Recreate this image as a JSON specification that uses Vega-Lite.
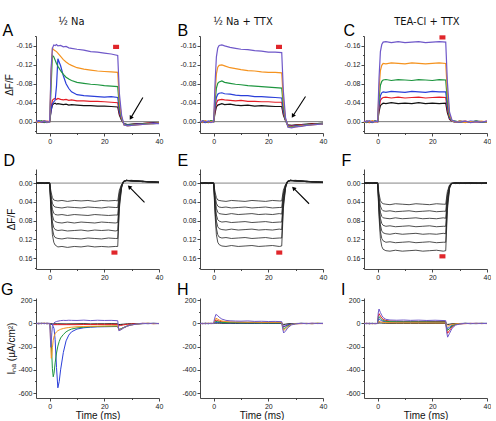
{
"$schema":"https://vega.github.io/schema/vega-lite/v6.json",
"padding":{"left":0,"top":16,"right":0,"bottom":0},
"background":"white",
"config":{"view":{"stroke":null},"axis":{"labelFont":"Liberation Sans","labelFontSize":7,"labelColor":"#222","titleFont":"Liberation Sans","titleFontSize":10,"titleFontWeight":"normal","titleColor":"#111","domainColor":"#333","tickColor":"#333","domainWidth":0.9,"tickWidth":0.9,"grid":false,"labelPadding":1,"labelOverlap":false}},
"datasets":{
"A":[
{"t":-5,"k":0.001,"r":-0.001,"b":0,"g":0.001,"o":-0.001,"u":0.002},
{"t":-4,"k":-0.001,"r":0.001,"b":-0.002,"g":0,"o":0.002,"u":-0.001},
{"t":-3,"k":0.001,"r":0,"b":0.001,"g":-0.002,"o":0,"u":0.001},
{"t":-2,"k":-0.001,"r":0.002,"b":0,"g":0.001,"o":-0.002,"u":-0.002},
{"t":-1,"k":0,"r":-0.001,"b":0.002,"g":0,"o":0.001,"u":0.001},
{"t":0,"k":0,"r":0,"b":0,"g":0,"o":0,"u":0},
{"t":0.5,"k":-0.022,"r":-0.028,"b":-0.024,"g":-0.07,"o":-0.1,"u":-0.11},
{"t":1,"k":-0.035,"r":-0.045,"b":-0.038,"g":-0.14,"o":-0.155,"u":-0.155},
{"t":1.5,"k":-0.038,"r":-0.048,"b":-0.042,"g":-0.137,"o":-0.152,"u":-0.162},
{"t":2,"k":-0.039,"r":-0.049,"b":-0.045,"g":-0.13,"o":-0.15,"u":-0.161},
{"t":2.5,"k":-0.037,"r":-0.047,"b":-0.075,"g":-0.123,"o":-0.148,"u":-0.163},
{"t":3,"k":-0.038,"r":-0.049,"b":-0.133,"g":-0.117,"o":-0.145,"u":-0.16},
{"t":4,"k":-0.037,"r":-0.047,"b":-0.118,"g":-0.108,"o":-0.138,"u":-0.161},
{"t":5,"k":-0.036,"r":-0.046,"b":-0.097,"g":-0.1,"o":-0.131,"u":-0.158},
{"t":6,"k":-0.037,"r":-0.047,"b":-0.08,"g":-0.094,"o":-0.126,"u":-0.159},
{"t":7,"k":-0.035,"r":-0.045,"b":-0.07,"g":-0.09,"o":-0.122,"u":-0.156},
{"t":8,"k":-0.036,"r":-0.046,"b":-0.063,"g":-0.087,"o":-0.119,"u":-0.155},
{"t":10,"k":-0.035,"r":-0.044,"b":-0.057,"g":-0.083,"o":-0.114,"u":-0.153},
{"t":12.5,"k":-0.034,"r":-0.044,"b":-0.055,"g":-0.081,"o":-0.111,"u":-0.151},
{"t":15,"k":-0.034,"r":-0.043,"b":-0.054,"g":-0.079,"o":-0.109,"u":-0.148},
{"t":17.5,"k":-0.033,"r":-0.043,"b":-0.053,"g":-0.078,"o":-0.107,"u":-0.147},
{"t":20,"k":-0.033,"r":-0.042,"b":-0.052,"g":-0.076,"o":-0.106,"u":-0.145},
{"t":22.5,"k":-0.032,"r":-0.041,"b":-0.053,"g":-0.075,"o":-0.105,"u":-0.143},
{"t":24.9,"k":-0.031,"r":-0.04,"b":-0.051,"g":-0.074,"o":-0.104,"u":-0.14},
{"t":25.5,"k":-0.014,"r":-0.018,"b":-0.022,"g":-0.032,"o":-0.045,"u":-0.06},
{"t":26.3,"k":-0.003,"r":-0.004,"b":-0.005,"g":-0.007,"o":-0.01,"u":-0.014},
{"t":27.2,"k":0.004,"r":0.005,"b":0.005,"g":0.006,"o":0.007,"u":0.007},
{"t":28.5,"k":0.006,"r":0.007,"b":0.007,"g":0.008,"o":0.009,"u":0.009},
{"t":30,"k":0.005,"r":0.006,"b":0.007,"g":0.007,"o":0.008,"u":0.008},
{"t":32,"k":0.004,"r":0.005,"b":0.005,"g":0.006,"o":0.007,"u":0.007},
{"t":34,"k":0.004,"r":0.004,"b":0.005,"g":0.005,"o":0.006,"u":0.006},
{"t":36,"k":0.003,"r":0.003,"b":0.004,"g":0.004,"o":0.005,"u":0.005},
{"t":38,"k":0.002,"r":0.003,"b":0.003,"g":0.004,"o":0.004,"u":0.004},
{"t":40,"k":0.002,"r":0.002,"b":0.003,"g":0.003,"o":0.003,"u":0.004}
],
"B":[
{"t":-5,"k":0.001,"r":0,"b":-0.001,"g":0.002,"o":-0.001,"u":0.001},
{"t":-4,"k":-0.001,"r":0.002,"b":0.001,"g":-0.001,"o":0.001,"u":-0.002},
{"t":-3,"k":0,"r":-0.001,"b":0.002,"g":0,"o":-0.002,"u":0.001},
{"t":-2,"k":0.002,"r":0.001,"b":-0.001,"g":0.001,"o":0.001,"u":-0.001},
{"t":-1,"k":-0.001,"r":-0.001,"b":0,"g":-0.002,"o":0,"u":0.002},
{"t":0,"k":0,"r":0,"b":0,"g":0,"o":0,"u":0},
{"t":0.5,"k":-0.018,"r":-0.023,"b":-0.03,"g":-0.042,"o":-0.06,"u":-0.08},
{"t":1,"k":-0.031,"r":-0.039,"b":-0.051,"g":-0.071,"o":-0.101,"u":-0.137},
{"t":1.5,"k":-0.035,"r":-0.045,"b":-0.058,"g":-0.081,"o":-0.115,"u":-0.156},
{"t":2,"k":-0.036,"r":-0.046,"b":-0.06,"g":-0.084,"o":-0.119,"u":-0.161},
{"t":3,"k":-0.038,"r":-0.047,"b":-0.061,"g":-0.086,"o":-0.12,"u":-0.162},
{"t":4,"k":-0.036,"r":-0.046,"b":-0.059,"g":-0.083,"o":-0.118,"u":-0.16},
{"t":6,"k":-0.037,"r":-0.045,"b":-0.058,"g":-0.081,"o":-0.114,"u":-0.157},
{"t":8,"k":-0.035,"r":-0.044,"b":-0.056,"g":-0.079,"o":-0.112,"u":-0.155},
{"t":10,"k":-0.034,"r":-0.045,"b":-0.055,"g":-0.078,"o":-0.11,"u":-0.153},
{"t":12.5,"k":-0.035,"r":-0.043,"b":-0.055,"g":-0.076,"o":-0.108,"u":-0.152},
{"t":15,"k":-0.033,"r":-0.043,"b":-0.053,"g":-0.075,"o":-0.107,"u":-0.15},
{"t":17.5,"k":-0.034,"r":-0.042,"b":-0.053,"g":-0.074,"o":-0.105,"u":-0.149},
{"t":20,"k":-0.033,"r":-0.042,"b":-0.052,"g":-0.073,"o":-0.104,"u":-0.147},
{"t":22.5,"k":-0.032,"r":-0.041,"b":-0.051,"g":-0.072,"o":-0.104,"u":-0.147},
{"t":24.9,"k":-0.032,"r":-0.041,"b":-0.05,"g":-0.071,"o":-0.103,"u":-0.146},
{"t":25.5,"k":-0.014,"r":-0.018,"b":-0.022,"g":-0.031,"o":-0.045,"u":-0.064},
{"t":26.3,"k":-0.002,"r":-0.003,"b":-0.003,"g":-0.004,"o":-0.006,"u":-0.008},
{"t":27.2,"k":0.007,"r":0.008,"b":0.009,"g":0.01,"o":0.011,"u":0.012},
{"t":28.5,"k":0.008,"r":0.009,"b":0.01,"g":0.011,"o":0.012,"u":0.013},
{"t":30,"k":0.007,"r":0.008,"b":0.009,"g":0.01,"o":0.011,"u":0.011},
{"t":32,"k":0.006,"r":0.007,"b":0.008,"g":0.009,"o":0.009,"u":0.01},
{"t":34,"k":0.005,"r":0.006,"b":0.007,"g":0.007,"o":0.008,"u":0.008},
{"t":36,"k":0.004,"r":0.005,"b":0.006,"g":0.006,"o":0.007,"u":0.007},
{"t":38,"k":0.004,"r":0.004,"b":0.005,"g":0.005,"o":0.006,"u":0.006},
{"t":40,"k":0.003,"r":0.004,"b":0.004,"g":0.005,"o":0.005,"u":0.005}
],
"C":[
{"t":-5,"k":0.001,"r":-0.001,"b":0.001,"g":0,"o":0.002,"u":-0.001},
{"t":-4,"k":-0.001,"r":0.001,"b":-0.001,"g":0.002,"o":-0.001,"u":0.001},
{"t":-3,"k":0,"r":0.002,"b":0,"g":-0.001,"o":0.001,"u":-0.002},
{"t":-2,"k":0.001,"r":-0.001,"b":0.002,"g":0.001,"o":-0.002,"u":0.001},
{"t":-1,"k":-0.001,"r":0,"b":-0.001,"g":-0.001,"o":0.001,"u":0},
{"t":0,"k":0,"r":0,"b":0,"g":0,"o":0,"u":0},
{"t":0.5,"k":-0.021,"r":-0.028,"b":-0.035,"g":-0.048,"o":-0.068,"u":-0.092},
{"t":1,"k":-0.034,"r":-0.045,"b":-0.055,"g":-0.077,"o":-0.108,"u":-0.148},
{"t":1.5,"k":-0.037,"r":-0.049,"b":-0.061,"g":-0.085,"o":-0.119,"u":-0.163},
{"t":2,"k":-0.039,"r":-0.051,"b":-0.063,"g":-0.088,"o":-0.123,"u":-0.168},
{"t":3,"k":-0.038,"r":-0.052,"b":-0.062,"g":-0.089,"o":-0.122,"u":-0.169},
{"t":5,"k":-0.04,"r":-0.05,"b":-0.064,"g":-0.087,"o":-0.124,"u":-0.167},
{"t":7.5,"k":-0.038,"r":-0.052,"b":-0.063,"g":-0.089,"o":-0.123,"u":-0.169},
{"t":10,"k":-0.039,"r":-0.05,"b":-0.062,"g":-0.088,"o":-0.122,"u":-0.167},
{"t":12.5,"k":-0.038,"r":-0.051,"b":-0.064,"g":-0.087,"o":-0.124,"u":-0.168},
{"t":15,"k":-0.04,"r":-0.052,"b":-0.063,"g":-0.089,"o":-0.123,"u":-0.169},
{"t":17.5,"k":-0.038,"r":-0.05,"b":-0.062,"g":-0.088,"o":-0.122,"u":-0.167},
{"t":20,"k":-0.039,"r":-0.051,"b":-0.064,"g":-0.087,"o":-0.123,"u":-0.168},
{"t":22.5,"k":-0.038,"r":-0.052,"b":-0.063,"g":-0.089,"o":-0.124,"u":-0.169},
{"t":24.9,"k":-0.039,"r":-0.051,"b":-0.063,"g":-0.088,"o":-0.123,"u":-0.168},
{"t":25.5,"k":-0.019,"r":-0.026,"b":-0.032,"g":-0.044,"o":-0.062,"u":-0.084},
{"t":26.3,"k":-0.005,"r":-0.006,"b":-0.008,"g":-0.011,"o":-0.015,"u":-0.02},
{"t":27.2,"k":-0.001,"r":-0.001,"b":-0.001,"g":-0.002,"o":-0.002,"u":-0.003},
{"t":28.5,"k":0.001,"r":0,"b":0.001,"g":-0.001,"o":0.001,"u":0},
{"t":30,"k":-0.001,"r":0.001,"b":0,"g":0.001,"o":-0.001,"u":0.001},
{"t":32,"k":0,"r":-0.001,"b":0.001,"g":0,"o":0.002,"u":-0.001},
{"t":34,"k":0.001,"r":0.001,"b":-0.001,"g":0.001,"o":0,"u":0.002},
{"t":36,"k":-0.001,"r":0,"b":0,"g":-0.001,"o":0.001,"u":0},
{"t":38,"k":0,"r":0.001,"b":0.001,"g":0.001,"o":-0.001,"u":0.001},
{"t":40,"k":0.001,"r":-0.001,"b":0,"g":0,"o":0.001,"u":-0.001}
],
"D":[
{"t":-5,"l1":0.001,"l2":-0.001,"l3":0,"l4":0.001,"l5":-0.001,"l6":0.001,"l7":0},
{"t":-4,"l1":-0.001,"l2":0.001,"l3":0.001,"l4":-0.001,"l5":0,"l6":-0.001,"l7":0.001},
{"t":-3,"l1":0,"l2":0,"l3":-0.001,"l4":0,"l5":0.001,"l6":0,"l7":-0.001},
{"t":-2,"l1":0.001,"l2":-0.001,"l3":0,"l4":0.001,"l5":-0.001,"l6":0.001,"l7":0},
{"t":-1,"l1":-0.001,"l2":0.001,"l3":0.001,"l4":-0.001,"l5":0,"l6":-0.001,"l7":0.001},
{"t":0,"l1":0,"l2":0,"l3":0,"l4":0,"l5":0,"l6":0,"l7":0},
{"t":0.5,"l1":0.019,"l2":0.026,"l3":0.034,"l4":0.042,"l5":0.05,"l6":0.058,"l7":0.066},
{"t":1,"l1":0.031,"l2":0.043,"l3":0.056,"l4":0.069,"l5":0.083,"l6":0.097,"l7":0.11},
{"t":1.5,"l1":0.036,"l2":0.049,"l3":0.064,"l4":0.079,"l5":0.095,"l6":0.111,"l7":0.126},
{"t":2,"l1":0.037,"l2":0.051,"l3":0.067,"l4":0.082,"l5":0.099,"l6":0.116,"l7":0.132},
{"t":3,"l1":0.038,"l2":0.052,"l3":0.068,"l4":0.084,"l5":0.101,"l6":0.118,"l7":0.136},
{"t":4.5,"l1":0.037,"l2":0.053,"l3":0.067,"l4":0.085,"l5":0.1,"l6":0.119,"l7":0.135},
{"t":6.5,"l1":0.039,"l2":0.051,"l3":0.069,"l4":0.083,"l5":0.102,"l6":0.117,"l7":0.137},
{"t":9,"l1":0.037,"l2":0.052,"l3":0.067,"l4":0.085,"l5":0.101,"l6":0.118,"l7":0.135},
{"t":11.5,"l1":0.038,"l2":0.053,"l3":0.068,"l4":0.083,"l5":0.1,"l6":0.119,"l7":0.136},
{"t":14,"l1":0.037,"l2":0.051,"l3":0.069,"l4":0.084,"l5":0.102,"l6":0.117,"l7":0.134},
{"t":16.5,"l1":0.039,"l2":0.052,"l3":0.067,"l4":0.085,"l5":0.1,"l6":0.118,"l7":0.136},
{"t":19,"l1":0.037,"l2":0.053,"l3":0.068,"l4":0.083,"l5":0.101,"l6":0.119,"l7":0.135},
{"t":21.5,"l1":0.038,"l2":0.051,"l3":0.069,"l4":0.084,"l5":0.1,"l6":0.117,"l7":0.136},
{"t":24,"l1":0.037,"l2":0.052,"l3":0.068,"l4":0.085,"l5":0.102,"l6":0.118,"l7":0.135},
{"t":24.9,"l1":0.038,"l2":0.052,"l3":0.068,"l4":0.084,"l5":0.101,"l6":0.118,"l7":0.135},
{"t":25.5,"l1":0.015,"l2":0.021,"l3":0.027,"l4":0.034,"l5":0.04,"l6":0.047,"l7":0.054},
{"t":26.3,"l1":0.003,"l2":0.004,"l3":0.005,"l4":0.007,"l5":0.008,"l6":0.009,"l7":0.011},
{"t":27,"l1":-0.002,"l2":-0.003,"l3":-0.003,"l4":-0.003,"l5":-0.004,"l6":-0.003,"l7":-0.004},
{"t":28,"l1":-0.005,"l2":-0.006,"l3":-0.005,"l4":-0.006,"l5":-0.005,"l6":-0.006,"l7":-0.006},
{"t":30,"l1":-0.005,"l2":-0.004,"l3":-0.006,"l4":-0.005,"l5":-0.005,"l6":-0.004,"l7":-0.005},
{"t":32,"l1":-0.004,"l2":-0.005,"l3":-0.004,"l4":-0.004,"l5":-0.005,"l6":-0.004,"l7":-0.004},
{"t":34,"l1":-0.004,"l2":-0.003,"l3":-0.004,"l4":-0.003,"l5":-0.004,"l6":-0.004,"l7":-0.003},
{"t":36,"l1":-0.003,"l2":-0.003,"l3":-0.002,"l4":-0.003,"l5":-0.003,"l6":-0.002,"l7":-0.003},
{"t":38,"l1":-0.002,"l2":-0.003,"l3":-0.002,"l4":-0.002,"l5":-0.003,"l6":-0.002,"l7":-0.002},
{"t":40,"l1":-0.002,"l2":-0.002,"l3":-0.001,"l4":-0.002,"l5":-0.002,"l6":-0.002,"l7":-0.001}
],
"E":[
{"t":-5,"l1":-0.001,"l2":0.001,"l3":0,"l4":-0.001,"l5":0.001,"l6":0,"l7":0.001},
{"t":-4,"l1":0.001,"l2":0,"l3":-0.001,"l4":0.001,"l5":0,"l6":0.001,"l7":-0.001},
{"t":-3,"l1":0,"l2":-0.001,"l3":0.001,"l4":0,"l5":-0.001,"l6":-0.001,"l7":0},
{"t":-2,"l1":-0.001,"l2":0.001,"l3":0,"l4":-0.001,"l5":0.001,"l6":0.001,"l7":0.001},
{"t":-1,"l1":0.001,"l2":0,"l3":-0.001,"l4":0.001,"l5":0,"l6":-0.001,"l7":-0.001},
{"t":0,"l1":0,"l2":0,"l3":0,"l4":0,"l5":0,"l6":0,"l7":0},
{"t":0.5,"l1":0.019,"l2":0.026,"l3":0.033,"l4":0.042,"l5":0.05,"l6":0.058,"l7":0.067},
{"t":1,"l1":0.031,"l2":0.043,"l3":0.054,"l4":0.068,"l5":0.081,"l6":0.096,"l7":0.11},
{"t":1.5,"l1":0.036,"l2":0.049,"l3":0.062,"l4":0.078,"l5":0.093,"l6":0.11,"l7":0.126},
{"t":2,"l1":0.037,"l2":0.051,"l3":0.065,"l4":0.081,"l5":0.097,"l6":0.115,"l7":0.131},
{"t":3,"l1":0.038,"l2":0.052,"l3":0.066,"l4":0.083,"l5":0.099,"l6":0.117,"l7":0.134},
{"t":4.5,"l1":0.039,"l2":0.051,"l3":0.067,"l4":0.082,"l5":0.1,"l6":0.116,"l7":0.135},
{"t":6.5,"l1":0.037,"l2":0.053,"l3":0.065,"l4":0.084,"l5":0.098,"l6":0.118,"l7":0.133},
{"t":9,"l1":0.038,"l2":0.052,"l3":0.067,"l4":0.083,"l5":0.1,"l6":0.117,"l7":0.135},
{"t":11.5,"l1":0.039,"l2":0.051,"l3":0.066,"l4":0.082,"l5":0.099,"l6":0.116,"l7":0.134},
{"t":14,"l1":0.037,"l2":0.053,"l3":0.065,"l4":0.084,"l5":0.098,"l6":0.118,"l7":0.133},
{"t":16.5,"l1":0.038,"l2":0.052,"l3":0.067,"l4":0.083,"l5":0.1,"l6":0.117,"l7":0.135},
{"t":19,"l1":0.039,"l2":0.051,"l3":0.066,"l4":0.082,"l5":0.099,"l6":0.116,"l7":0.134},
{"t":21.5,"l1":0.037,"l2":0.053,"l3":0.067,"l4":0.084,"l5":0.1,"l6":0.118,"l7":0.133},
{"t":24,"l1":0.038,"l2":0.052,"l3":0.065,"l4":0.083,"l5":0.098,"l6":0.117,"l7":0.135},
{"t":24.9,"l1":0.038,"l2":0.052,"l3":0.066,"l4":0.083,"l5":0.099,"l6":0.117,"l7":0.134},
{"t":25.5,"l1":0.015,"l2":0.021,"l3":0.026,"l4":0.033,"l5":0.04,"l6":0.047,"l7":0.054},
{"t":26.3,"l1":0.003,"l2":0.004,"l3":0.005,"l4":0.007,"l5":0.008,"l6":0.009,"l7":0.011},
{"t":27,"l1":-0.003,"l2":-0.002,"l3":-0.003,"l4":-0.004,"l5":-0.003,"l6":-0.004,"l7":-0.003},
{"t":28,"l1":-0.005,"l2":-0.006,"l3":-0.006,"l4":-0.005,"l5":-0.006,"l6":-0.005,"l7":-0.006},
{"t":30,"l1":-0.004,"l2":-0.005,"l3":-0.005,"l4":-0.006,"l5":-0.004,"l6":-0.005,"l7":-0.005},
{"t":32,"l1":-0.004,"l2":-0.004,"l3":-0.005,"l4":-0.004,"l5":-0.004,"l6":-0.005,"l7":-0.004},
{"t":34,"l1":-0.003,"l2":-0.004,"l3":-0.003,"l4":-0.004,"l5":-0.003,"l6":-0.004,"l7":-0.003},
{"t":36,"l1":-0.003,"l2":-0.002,"l3":-0.003,"l4":-0.003,"l5":-0.002,"l6":-0.003,"l7":-0.003},
{"t":38,"l1":-0.002,"l2":-0.003,"l3":-0.002,"l4":-0.002,"l5":-0.002,"l6":-0.003,"l7":-0.002},
{"t":40,"l1":-0.002,"l2":-0.001,"l3":-0.002,"l4":-0.002,"l5":-0.001,"l6":-0.002,"l7":-0.002}
],
"F":[
{"t":-5,"l1":0.001,"l2":0,"l3":-0.001,"l4":0.001,"l5":0,"l6":-0.001,"l7":0.001},
{"t":-4,"l1":-0.001,"l2":0.001,"l3":0,"l4":-0.001,"l5":0.001,"l6":0,"l7":-0.001},
{"t":-3,"l1":0,"l2":-0.001,"l3":0.001,"l4":0,"l5":-0.001,"l6":0.001,"l7":0},
{"t":-2,"l1":0.001,"l2":0,"l3":-0.001,"l4":0.001,"l5":0,"l6":-0.001,"l7":0.001},
{"t":-1,"l1":-0.001,"l2":0.001,"l3":0,"l4":-0.001,"l5":0.001,"l6":0,"l7":-0.001},
{"t":0,"l1":0,"l2":0,"l3":0,"l4":0,"l5":0,"l6":0,"l7":0},
{"t":0.5,"l1":0.023,"l2":0.03,"l3":0.038,"l4":0.046,"l5":0.054,"l6":0.063,"l7":0.072},
{"t":1,"l1":0.037,"l2":0.049,"l3":0.062,"l4":0.075,"l5":0.089,"l6":0.103,"l7":0.118},
{"t":1.5,"l1":0.042,"l2":0.056,"l3":0.071,"l4":0.086,"l5":0.102,"l6":0.118,"l7":0.135},
{"t":2,"l1":0.044,"l2":0.059,"l3":0.074,"l4":0.09,"l5":0.106,"l6":0.123,"l7":0.141},
{"t":3,"l1":0.045,"l2":0.06,"l3":0.075,"l4":0.092,"l5":0.108,"l6":0.126,"l7":0.144},
{"t":4.5,"l1":0.046,"l2":0.059,"l3":0.076,"l4":0.091,"l5":0.109,"l6":0.125,"l7":0.145},
{"t":6.5,"l1":0.044,"l2":0.061,"l3":0.074,"l4":0.093,"l5":0.107,"l6":0.127,"l7":0.143},
{"t":9,"l1":0.045,"l2":0.06,"l3":0.076,"l4":0.092,"l5":0.109,"l6":0.126,"l7":0.145},
{"t":11.5,"l1":0.046,"l2":0.059,"l3":0.075,"l4":0.091,"l5":0.108,"l6":0.125,"l7":0.144},
{"t":14,"l1":0.044,"l2":0.061,"l3":0.074,"l4":0.093,"l5":0.107,"l6":0.127,"l7":0.143},
{"t":16.5,"l1":0.045,"l2":0.06,"l3":0.076,"l4":0.092,"l5":0.109,"l6":0.126,"l7":0.145},
{"t":19,"l1":0.046,"l2":0.059,"l3":0.075,"l4":0.091,"l5":0.108,"l6":0.125,"l7":0.144},
{"t":21.5,"l1":0.044,"l2":0.061,"l3":0.076,"l4":0.093,"l5":0.109,"l6":0.127,"l7":0.143},
{"t":24,"l1":0.045,"l2":0.06,"l3":0.074,"l4":0.092,"l5":0.107,"l6":0.126,"l7":0.145},
{"t":24.9,"l1":0.045,"l2":0.06,"l3":0.075,"l4":0.092,"l5":0.108,"l6":0.126,"l7":0.144},
{"t":25.5,"l1":0.018,"l2":0.024,"l3":0.03,"l4":0.037,"l5":0.043,"l6":0.05,"l7":0.058},
{"t":26.3,"l1":0.004,"l2":0.005,"l3":0.006,"l4":0.007,"l5":0.009,"l6":0.01,"l7":0.012},
{"t":27,"l1":0.001,"l2":0,"l3":0.001,"l4":0.001,"l5":0,"l6":0.001,"l7":0.001},
{"t":28.5,"l1":-0.001,"l2":0.001,"l3":0,"l4":-0.001,"l5":0.001,"l6":0,"l7":-0.001},
{"t":30,"l1":0.001,"l2":-0.001,"l3":0.001,"l4":0,"l5":-0.001,"l6":0.001,"l7":0},
{"t":32,"l1":0,"l2":0.001,"l3":-0.001,"l4":0.001,"l5":0,"l6":-0.001,"l7":0.001},
{"t":34,"l1":-0.001,"l2":0,"l3":0.001,"l4":-0.001,"l5":0.001,"l6":0,"l7":-0.001},
{"t":36,"l1":0.001,"l2":-0.001,"l3":0,"l4":0.001,"l5":-0.001,"l6":0.001,"l7":0},
{"t":38,"l1":0,"l2":0.001,"l3":-0.001,"l4":0,"l5":0.001,"l6":-0.001,"l7":0.001},
{"t":40,"l1":-0.001,"l2":0,"l3":0.001,"l4":-0.001,"l5":0,"l6":0.001,"l7":-0.001}
],
"G":[
{"t":-5,"u":2,"o":-3,"g":1,"b":-2,"r":0,"k":1},
{"t":-4,"u":-3,"o":2,"g":-2,"b":3,"r":-1,"k":0},
{"t":-3,"u":3,"o":-1,"g":2,"b":-1,"r":1,"k":-1},
{"t":-2,"u":-2,"o":3,"g":-1,"b":2,"r":0,"k":1},
{"t":-1,"u":3,"o":-2,"g":1,"b":-2,"r":1,"k":-1},
{"t":0,"u":0,"o":0,"g":0,"b":0,"r":0,"k":0},
{"t":0.2,"u":-90,"o":-60,"g":-20,"b":-4,"r":-5,"k":-2},
{"t":0.4,"u":-205,"o":-200,"g":-80},
{"t":0.6,"u":-150,"o":-300,"g":-160},
{"t":0.8,"u":-80,"o":-275,"g":-280},
{"t":1,"u":-25,"o":-210,"g":-390,"b":-12,"r":-10,"k":-3},
{"t":1.3,"u":-2,"o":-145,"g":-460,"b":-25},
{"t":1.6,"u":6,"o":-112,"g":-430,"b":-45},
{"t":2,"u":12,"o":-88,"g":-340,"b":-140},
{"t":2.5,"u":17,"o":-72,"g":-255,"b":-380},
{"t":3,"u":20,"o":-62,"g":-195,"b":-555,"r":-10,"k":-3},
{"t":3.5,"o":-56,"g":-155,"b":-500},
{"t":4,"u":25,"o":-50,"g":-125,"b":-400},
{"t":5,"u":27,"o":-43,"g":-95,"b":-250},
{"t":6,"u":26,"o":-38,"g":-72,"b":-150,"r":-10,"k":-4},
{"t":7,"u":28,"o":-35,"g":-58,"b":-100},
{"t":8,"u":27,"o":-32,"g":-48,"b":-72},
{"t":10,"u":26,"o":-28,"g":-38,"b":-48,"r":-10,"k":-3},
{"t":12.5,"u":29,"o":-26,"g":-32,"b":-37,"r":-9,"k":-2},
{"t":15,"u":25,"o":-24,"g":-28,"b":-32,"r":-9,"k":-4},
{"t":17.5,"u":28,"o":-23,"g":-26,"b":-29,"r":-8,"k":-3},
{"t":20,"u":26,"o":-22,"g":-25,"b":-28,"r":-8,"k":-3},
{"t":22.5,"u":27,"o":-21,"g":-24,"b":-27,"r":-8,"k":-2},
{"t":24.9,"u":24,"o":-20,"g":-23,"b":-26,"r":-8,"k":-3},
{"t":25.3,"u":-62,"o":-58,"g":-52,"b":-50,"r":-20,"k":-10},
{"t":26,"u":-56,"o":-52,"g":-48,"b":-46,"r":-17,"k":-8},
{"t":27,"u":-40,"o":-38,"g":-36,"b":-35,"r":-12,"k":-6},
{"t":28.5,"u":-22,"o":-22,"g":-20,"b":-20,"r":-7,"k":-3},
{"t":30,"u":-12,"o":-12,"g":-11,"b":-11,"r":-4,"k":-2},
{"t":32,"u":-5,"o":-5,"g":-5,"b":-4,"r":-1,"k":-1},
{"t":34,"u":2,"o":-1,"g":0,"b":-2,"r":1,"k":0},
{"t":36,"u":-2,"o":2,"g":-1,"b":1,"r":0,"k":1},
{"t":38,"u":3,"o":-2,"g":1,"b":-1,"r":-1,"k":0},
{"t":40,"u":-1,"o":1,"g":0,"b":0,"r":0,"k":-1}
],
"H":[
{"t":-5,"u":2,"o":-2,"g":1,"b":-1,"r":0,"k":1},
{"t":-4,"u":-3,"o":1,"g":-1,"b":2,"r":-1,"k":0},
{"t":-3,"u":3,"o":-1,"g":2,"b":-2,"r":1,"k":-1},
{"t":-2,"u":-2,"o":2,"g":-2,"b":1,"r":0,"k":1},
{"t":-1,"u":2,"o":-1,"g":1,"b":-1,"r":1,"k":0},
{"t":0,"u":0,"o":0,"g":0,"b":0,"r":0,"k":0},
{"t":0.3,"u":40,"o":22,"g":9,"b":5,"r":15,"k":2},
{"t":0.8,"u":78,"o":45,"g":18,"b":10,"r":30,"k":3},
{"t":1.3,"u":72,"o":40,"g":16,"b":9,"r":27,"k":3},
{"t":2,"u":55,"o":30,"g":13,"b":8,"r":20,"k":3},
{"t":3,"u":38,"o":22,"g":10,"b":7,"r":15,"k":2},
{"t":4.5,"u":27,"o":16,"g":8,"b":6,"r":12,"k":2},
{"t":6,"u":23,"o":14,"g":7,"b":5,"r":10,"k":2},
{"t":8,"u":21,"o":13,"g":7,"b":5,"r":9,"k":1},
{"t":10,"u":20,"o":12,"g":6,"b":5,"r":9,"k":2},
{"t":12.5,"u":22,"o":11,"g":6,"b":4,"r":8,"k":1},
{"t":15,"u":18,"o":11,"g":6,"b":4,"r":9,"k":1},
{"t":17.5,"u":19,"o":10,"g":5,"b":4,"r":8,"k":2},
{"t":20,"u":17,"o":10,"g":5,"b":4,"r":8,"k":1},
{"t":22.5,"u":18,"o":10,"g":5,"b":4,"r":8,"k":1},
{"t":24.9,"u":16,"o":10,"g":5,"b":4,"r":8,"k":1},
{"t":25.2,"u":-40,"o":-30,"g":-22,"b":-12,"r":-15,"k":-5},
{"t":25.6,"u":-82,"o":-60,"g":-45,"b":-25,"r":-28,"k":-8},
{"t":26.3,"u":-65,"o":-48,"g":-36,"b":-20,"r":-22,"k":-6},
{"t":27.2,"u":-35,"o":-26,"g":-20,"b":-11,"r":-12,"k":-3},
{"t":28.5,"u":-12,"o":-9,"g":-7,"b":-4,"r":-4,"k":-1},
{"t":30,"u":-3,"o":-2,"g":-2,"b":-1,"r":-1,"k":0},
{"t":32,"u":2,"o":-1,"g":1,"b":0,"r":-1,"k":1},
{"t":34,"u":-2,"o":1,"g":-1,"b":1,"r":0,"k":0},
{"t":36,"u":3,"o":-2,"g":0,"b":-1,"r":1,"k":-1},
{"t":38,"u":-1,"o":2,"g":1,"b":0,"r":0,"k":1},
{"t":40,"u":1,"o":-1,"g":0,"b":1,"r":-1,"k":0}
],
"I":[
{"t":-5,"u":-2,"o":2,"g":-1,"b":1,"r":0,"k":-1},
{"t":-4,"u":3,"o":-1,"g":1,"b":-2,"r":1,"k":0},
{"t":-3,"u":-3,"o":1,"g":-2,"b":2,"r":-1,"k":1},
{"t":-2,"u":2,"o":-2,"g":2,"b":-1,"r":0,"k":-1},
{"t":-1,"u":-2,"o":1,"g":-1,"b":1,"r":-1,"k":0},
{"t":0,"u":0,"o":0,"g":0,"b":0,"r":0,"k":0},
{"t":0.2,"u":90,"r":60,"g":42,"b":28,"o":14,"k":3},
{"t":0.5,"u":125,"r":85,"g":60,"b":40,"o":20,"k":5},
{"t":1,"u":95,"r":65,"g":45,"b":30,"o":15,"k":4},
{"t":1.5,"u":70,"r":48,"g":34,"b":23,"o":12,"k":4},
{"t":2,"u":52,"r":36,"g":26,"b":18,"o":10,"k":3},
{"t":3,"u":36,"r":26,"g":19,"b":14,"o":8,"k":3},
{"t":4.5,"u":30,"r":21,"g":16,"b":12,"o":7,"k":2},
{"t":7,"u":28,"r":19,"g":15,"b":11,"o":6,"k":2},
{"t":9.5,"u":30,"r":18,"g":14,"b":11,"o":6,"k":2},
{"t":12,"u":27,"r":18,"g":14,"b":11,"o":6,"k":2},
{"t":15,"u":29,"r":18,"g":14,"b":10,"o":6,"k":2},
{"t":18,"u":26,"r":18,"g":14,"b":10,"o":6,"k":2},
{"t":21,"u":28,"r":17,"g":13,"b":10,"o":5,"k":2},
{"t":24.9,"u":25,"r":17,"g":13,"b":10,"o":5,"k":2},
{"t":25.2,"u":-70,"r":-50,"g":-36,"b":-26,"o":-14,"k":-5},
{"t":25.6,"u":-118,"r":-85,"g":-60,"b":-44,"o":-24,"k":-8},
{"t":26.3,"u":-85,"r":-60,"g":-43,"b":-31,"o":-17,"k":-6},
{"t":27.2,"u":-42,"r":-30,"g":-21,"b":-15,"o":-8,"k":-3},
{"t":28.5,"u":-14,"r":-10,"g":-7,"b":-5,"o":-3,"k":-1},
{"t":30,"u":-4,"r":-3,"g":-2,"b":-2,"o":-1,"k":0},
{"t":32,"u":2,"r":-1,"g":1,"b":0,"o":-1,"k":1},
{"t":34,"u":-2,"r":1,"g":-1,"b":1,"o":0,"k":0},
{"t":36,"u":3,"r":0,"g":0,"b":-1,"o":1,"k":-1},
{"t":38,"u":-1,"r":1,"g":1,"b":0,"o":-1,"k":1},
{"t":40,"u":1,"r":-1,"g":0,"b":1,"o":0,"k":0}
],
"mk":[
{"p":"A","t":24.3,"v":-0.158},{"p":"B","t":23.9,"v":-0.158},{"p":"C","t":23.7,"v":-0.178},
{"p":"D","t":23.7,"v":0.148},{"p":"E","t":24,"v":0.148},{"p":"F","t":23.7,"v":0.156}
],
"ar":[
{"p":"A","t":34.1,"v":-0.051,"t2":29.8,"v2":-0.009},
{"p":"B","t":33.6,"v":-0.053,"t2":29.1,"v2":-0.013},
{"p":"D","t":34.7,"v":0.041,"t2":29.3,"v2":0.009},
{"p":"E","t":34.9,"v":0.044,"t2":29.4,"v2":0.012}
]
},
"columns":3,
"spacing":{"row":2,"column":13},
"align":"each",
"concat":[
{
"title":{"text":"½ Na","anchor":"middle","frame":"bounds","font":"'Liberation Sans Narrow','DejaVu Sans Condensed',sans-serif","fontSize":11,"fontWeight":"normal","color":"#111","offset":-5,"dx":-11},
"width":123,"height":97,
"layer":[
{"data":{"values":[{}]},"mark":{"type":"rule","color":"#555","strokeWidth":0.8},"encoding":{"y":{"datum":0,"type":"quantitative","axis":null}}},
{"data":{"name":"A"},"transform":[{"fold":["k","r","b","g","o","u"],"as":["s","v"]},{"filter":"isValid(datum.v)"}],"mark":{"type":"line","strokeWidth":1.2},
"encoding":{"x":{"field":"t","type":"quantitative","scale":{"domain":[-5,40],"nice":false,"zero":false},"axis":{"values":[0,10,20,30,40],"labelExpr":"datum.value % 20 === 0 ? format(datum.value,'d') : ''","tickSize":{"condition":{"test":"datum.value % 20 === 0","value":3},"value":1.5},"title":null,"labelFlush":false,"labelOverlap":false,"minExtent":18}},
"y":{"field":"v","type":"quantitative","scale":{"domain":[-0.181,0.024],"reverse":true,"nice":false,"zero":false},"axis":{"values":[-0.16,-0.14,-0.12,-0.1,-0.08,-0.06,-0.04,-0.02,0,0.02,-0.18],"labelExpr":"abs(round(datum.value*100)) % 4 === 0 ? replace(format(datum.value,'.2f'),'−','-') : ''","tickSize":{"condition":{"test":"abs(round(datum.value*100)) % 4 === 0","value":3},"value":1.5},"labelOverlap":false,"title":"ΔF/F","titlePadding":2}},
"color":{"field":"s","type":"nominal","scale":{"domain":["k","r","b","g","o","u"],"range":["#111111","#e41e26","#2b3fd9","#1e9640","#f5931f","#6f58c9"]},"legend":null}}},
{"data":{"name":"mk"},"transform":[{"filter":"datum.p==='A'"}],"mark":{"type":"point","shape":"M-1,-0.7L1,-0.7L1,0.7L-1,0.7Z","filled":true,"color":"#e0262b","size":36,"opacity":1},
"encoding":{"x":{"field":"t","type":"quantitative","axis":{"orient":"top","title":"A","labels":false,"ticks":false,"domain":false,"grid":false,"titleX":-34,"titleY":-1,"titleAlign":"left","titleAngle":0,"titleBaseline":"alphabetic","titleFont":"Liberation Sans","titleFontSize":16,"titleFontWeight":"normal","titleColor":"#000"}},"y":{"field":"v","type":"quantitative","axis":null}}},
{"data":{"name":"ar"},"transform":[{"filter":"datum.p==='A'"}],"mark":{"type":"rule","color":"#000","strokeWidth":1.1},"encoding":{"x":{"field":"t","type":"quantitative","axis":null},"y":{"field":"v","type":"quantitative","axis":null},"x2":{"field":"t2"},"y2":{"field":"v2"}}},
{"data":{"name":"ar"},"transform":[{"filter":"datum.p==='A'"}],"mark":{"type":"point","shape":"triangle","filled":true,"color":"#000","size":22,"angle":210,"opacity":1},"encoding":{"x":{"field":"t2","type":"quantitative","axis":null},"y":{"field":"v2","type":"quantitative","axis":null}}}
],
"resolve":{"axis":{"x":"independent","y":"independent"}}
},
{
"title":{"text":"½ Na + TTX","anchor":"middle","frame":"bounds","font":"'Liberation Sans Narrow','DejaVu Sans Condensed',sans-serif","fontSize":11,"fontWeight":"normal","color":"#111","offset":-5,"dx":-9},
"width":123,"height":97,
"layer":[
{"data":{"values":[{}]},"mark":{"type":"rule","color":"#555","strokeWidth":0.8},"encoding":{"y":{"datum":0,"type":"quantitative","axis":null}}},
{"data":{"name":"B"},"transform":[{"fold":["k","r","b","g","o","u"],"as":["s","v"]},{"filter":"isValid(datum.v)"}],"mark":{"type":"line","strokeWidth":1.2},
"encoding":{"x":{"field":"t","type":"quantitative","scale":{"domain":[-5,40],"nice":false,"zero":false},"axis":{"values":[0,10,20,30,40],"labelExpr":"datum.value % 20 === 0 ? format(datum.value,'d') : ''","tickSize":{"condition":{"test":"datum.value % 20 === 0","value":3},"value":1.5},"title":null,"labelFlush":false,"labelOverlap":false,"minExtent":18}},
"y":{"field":"v","type":"quantitative","scale":{"domain":[-0.181,0.024],"reverse":true,"nice":false,"zero":false},"axis":{"values":[-0.16,-0.14,-0.12,-0.1,-0.08,-0.06,-0.04,-0.02,0,0.02,-0.18],"labelExpr":"abs(round(datum.value*100)) % 4 === 0 ? replace(format(datum.value,'.2f'),'−','-') : ''","tickSize":{"condition":{"test":"abs(round(datum.value*100)) % 4 === 0","value":3},"value":1.5},"labelOverlap":false,"title":null}},
"color":{"field":"s","type":"nominal","scale":{"domain":["k","r","b","g","o","u"],"range":["#111111","#e41e26","#2b3fd9","#1e9640","#f5931f","#6f58c9"]},"legend":null}}},
{"data":{"name":"mk"},"transform":[{"filter":"datum.p==='B'"}],"mark":{"type":"point","shape":"M-1,-0.7L1,-0.7L1,0.7L-1,0.7Z","filled":true,"color":"#e0262b","size":36,"opacity":1},
"encoding":{"x":{"field":"t","type":"quantitative","axis":{"orient":"top","title":"B","labels":false,"ticks":false,"domain":false,"grid":false,"titleX":-23,"titleY":-1,"titleAlign":"left","titleAngle":0,"titleBaseline":"alphabetic","titleFont":"Liberation Sans","titleFontSize":16,"titleFontWeight":"normal","titleColor":"#000"}},"y":{"field":"v","type":"quantitative","axis":null}}},
{"data":{"name":"ar"},"transform":[{"filter":"datum.p==='B'"}],"mark":{"type":"rule","color":"#000","strokeWidth":1.1},"encoding":{"x":{"field":"t","type":"quantitative","axis":null},"y":{"field":"v","type":"quantitative","axis":null},"x2":{"field":"t2"},"y2":{"field":"v2"}}},
{"data":{"name":"ar"},"transform":[{"filter":"datum.p==='B'"}],"mark":{"type":"point","shape":"triangle","filled":true,"color":"#000","size":22,"angle":212,"opacity":1},"encoding":{"x":{"field":"t2","type":"quantitative","axis":null},"y":{"field":"v2","type":"quantitative","axis":null}}}
],
"resolve":{"axis":{"x":"independent","y":"independent"}}
},
{
"title":{"text":"TEA-Cl + TTX","anchor":"middle","frame":"bounds","font":"'Liberation Sans Narrow','DejaVu Sans Condensed',sans-serif","fontSize":11,"fontWeight":"normal","color":"#111","offset":-5,"dx":10},
"width":123,"height":97,
"layer":[
{"data":{"values":[{}]},"mark":{"type":"rule","color":"#555","strokeWidth":0.8},"encoding":{"y":{"datum":0,"type":"quantitative","axis":null}}},
{"data":{"name":"C"},"transform":[{"fold":["k","r","b","g","o","u"],"as":["s","v"]},{"filter":"isValid(datum.v)"}],"mark":{"type":"line","strokeWidth":1.2},
"encoding":{"x":{"field":"t","type":"quantitative","scale":{"domain":[-5,40],"nice":false,"zero":false},"axis":{"values":[0,10,20,30,40],"labelExpr":"datum.value % 20 === 0 ? format(datum.value,'d') : ''","tickSize":{"condition":{"test":"datum.value % 20 === 0","value":3},"value":1.5},"title":null,"labelFlush":false,"labelOverlap":false,"minExtent":18}},
"y":{"field":"v","type":"quantitative","scale":{"domain":[-0.181,0.024],"reverse":true,"nice":false,"zero":false},"axis":{"values":[-0.16,-0.14,-0.12,-0.1,-0.08,-0.06,-0.04,-0.02,0,0.02,-0.18],"labelExpr":"abs(round(datum.value*100)) % 4 === 0 ? replace(format(datum.value,'.2f'),'−','-') : ''","tickSize":{"condition":{"test":"abs(round(datum.value*100)) % 4 === 0","value":3},"value":1.5},"labelOverlap":false,"title":null}},
"color":{"field":"s","type":"nominal","scale":{"domain":["k","r","b","g","o","u"],"range":["#111111","#e41e26","#2b3fd9","#1e9640","#f5931f","#6f58c9"]},"legend":null}}},
{"data":{"name":"mk"},"transform":[{"filter":"datum.p==='C'"}],"mark":{"type":"point","shape":"M-1,-0.7L1,-0.7L1,0.7L-1,0.7Z","filled":true,"color":"#e0262b","size":36,"opacity":1},
"encoding":{"x":{"field":"t","type":"quantitative","axis":{"orient":"top","title":"C","labels":false,"ticks":false,"domain":false,"grid":false,"titleX":-21,"titleY":-1,"titleAlign":"left","titleAngle":0,"titleBaseline":"alphabetic","titleFont":"Liberation Sans","titleFontSize":16,"titleFontWeight":"normal","titleColor":"#000"}},"y":{"field":"v","type":"quantitative","axis":null}}}
],
"resolve":{"axis":{"x":"independent","y":"independent"}}
},
{
"title":{"text":"D","anchor":"start","frame":"bounds","font":"Liberation Sans","fontSize":16,"fontWeight":"normal","color":"#000","offset":0,"dx":-3},
"width":123,"height":100,
"layer":[
{"data":{"values":[{}]},"mark":{"type":"rule","color":"#666","strokeWidth":0.8},"encoding":{"y":{"datum":0,"type":"quantitative","axis":null}}},
{"data":{"name":"D"},"transform":[{"fold":["l1","l2","l3","l4","l5","l6","l7"],"as":["s","v"]},{"filter":"isValid(datum.v)"}],"mark":{"type":"line","strokeWidth":0.8,"color":"#222"},
"encoding":{"x":{"field":"t","type":"quantitative","scale":{"domain":[-5,40],"nice":false,"zero":false},"axis":{"values":[0,10,20,30,40],"labelExpr":"datum.value % 20 === 0 ? format(datum.value,'d') : ''","tickSize":{"condition":{"test":"datum.value % 20 === 0","value":3},"value":1.5},"title":null,"labelFlush":false,"labelOverlap":false}},
"y":{"field":"v","type":"quantitative","scale":{"domain":[-0.03,0.183],"reverse":true,"nice":false,"zero":false},"axis":{"values":[0,0.02,0.04,0.06,0.08,0.1,0.12,0.14,0.16,0.18,-0.02],"labelExpr":"abs(round(datum.value*100)) % 4 === 0 ? replace(format(datum.value,'.2f'),'−','-') : ''","tickSize":{"condition":{"test":"abs(round(datum.value*100)) % 4 === 0","value":3},"value":1.5},"labelOverlap":false,"title":"ΔF/F","titlePadding":2}},
"detail":{"field":"s","type":"nominal"}}},
{"data":{"name":"mk"},"transform":[{"filter":"datum.p==='D'"}],"mark":{"type":"point","shape":"M-1,-0.7L1,-0.7L1,0.7L-1,0.7Z","filled":true,"color":"#e0262b","size":36,"opacity":1},"encoding":{"x":{"field":"t","type":"quantitative","axis":null},"y":{"field":"v","type":"quantitative","axis":null}}},
{"data":{"name":"ar"},"transform":[{"filter":"datum.p==='D'"}],"mark":{"type":"rule","color":"#000","strokeWidth":1.1},"encoding":{"x":{"field":"t","type":"quantitative","axis":null},"y":{"field":"v","type":"quantitative","axis":null},"x2":{"field":"t2"},"y2":{"field":"v2"}}},
{"data":{"name":"ar"},"transform":[{"filter":"datum.p==='D'"}],"mark":{"type":"point","shape":"triangle","filled":true,"color":"#000","size":22,"angle":315,"opacity":1},"encoding":{"x":{"field":"t2","type":"quantitative","axis":null},"y":{"field":"v2","type":"quantitative","axis":null}}}
],
"resolve":{"axis":{"x":"independent","y":"independent"}}
},
{
"title":{"text":"E","anchor":"start","frame":"bounds","font":"Liberation Sans","fontSize":16,"fontWeight":"normal","color":"#000","offset":0,"dx":-5},
"width":123,"height":100,
"layer":[
{"data":{"values":[{}]},"mark":{"type":"rule","color":"#666","strokeWidth":0.8},"encoding":{"y":{"datum":0,"type":"quantitative","axis":null}}},
{"data":{"name":"E"},"transform":[{"fold":["l1","l2","l3","l4","l5","l6","l7"],"as":["s","v"]},{"filter":"isValid(datum.v)"}],"mark":{"type":"line","strokeWidth":0.8,"color":"#222"},
"encoding":{"x":{"field":"t","type":"quantitative","scale":{"domain":[-5,40],"nice":false,"zero":false},"axis":{"values":[0,10,20,30,40],"labelExpr":"datum.value % 20 === 0 ? format(datum.value,'d') : ''","tickSize":{"condition":{"test":"datum.value % 20 === 0","value":3},"value":1.5},"title":null,"labelFlush":false,"labelOverlap":false}},
"y":{"field":"v","type":"quantitative","scale":{"domain":[-0.03,0.183],"reverse":true,"nice":false,"zero":false},"axis":{"values":[0,0.02,0.04,0.06,0.08,0.1,0.12,0.14,0.16,0.18,-0.02],"labelExpr":"abs(round(datum.value*100)) % 4 === 0 ? replace(format(datum.value,'.2f'),'−','-') : ''","tickSize":{"condition":{"test":"abs(round(datum.value*100)) % 4 === 0","value":3},"value":1.5},"labelOverlap":false,"title":null}},
"detail":{"field":"s","type":"nominal"}}},
{"data":{"name":"mk"},"transform":[{"filter":"datum.p==='E'"}],"mark":{"type":"point","shape":"M-1,-0.7L1,-0.7L1,0.7L-1,0.7Z","filled":true,"color":"#e0262b","size":36,"opacity":1},"encoding":{"x":{"field":"t","type":"quantitative","axis":null},"y":{"field":"v","type":"quantitative","axis":null}}},
{"data":{"name":"ar"},"transform":[{"filter":"datum.p==='E'"}],"mark":{"type":"rule","color":"#000","strokeWidth":1.1},"encoding":{"x":{"field":"t","type":"quantitative","axis":null},"y":{"field":"v","type":"quantitative","axis":null},"x2":{"field":"t2"},"y2":{"field":"v2"}}},
{"data":{"name":"ar"},"transform":[{"filter":"datum.p==='E'"}],"mark":{"type":"point","shape":"triangle","filled":true,"color":"#000","size":22,"angle":315,"opacity":1},"encoding":{"x":{"field":"t2","type":"quantitative","axis":null},"y":{"field":"v2","type":"quantitative","axis":null}}}
],
"resolve":{"axis":{"x":"independent","y":"independent"}}
},
{
"title":{"text":"F","anchor":"start","frame":"bounds","font":"Liberation Sans","fontSize":16,"fontWeight":"normal","color":"#000","offset":0,"dx":-5},
"width":123,"height":100,
"layer":[
{"data":{"values":[{}]},"mark":{"type":"rule","color":"#666","strokeWidth":0.8},"encoding":{"y":{"datum":0,"type":"quantitative","axis":null}}},
{"data":{"name":"F"},"transform":[{"fold":["l1","l2","l3","l4","l5","l6","l7"],"as":["s","v"]},{"filter":"isValid(datum.v)"}],"mark":{"type":"line","strokeWidth":0.8,"color":"#222"},
"encoding":{"x":{"field":"t","type":"quantitative","scale":{"domain":[-5,40],"nice":false,"zero":false},"axis":{"values":[0,10,20,30,40],"labelExpr":"datum.value % 20 === 0 ? format(datum.value,'d') : ''","tickSize":{"condition":{"test":"datum.value % 20 === 0","value":3},"value":1.5},"title":null,"labelFlush":false,"labelOverlap":false}},
"y":{"field":"v","type":"quantitative","scale":{"domain":[-0.03,0.183],"reverse":true,"nice":false,"zero":false},"axis":{"values":[0,0.02,0.04,0.06,0.08,0.1,0.12,0.14,0.16,0.18,-0.02],"labelExpr":"abs(round(datum.value*100)) % 4 === 0 ? replace(format(datum.value,'.2f'),'−','-') : ''","tickSize":{"condition":{"test":"abs(round(datum.value*100)) % 4 === 0","value":3},"value":1.5},"labelOverlap":false,"title":null}},
"detail":{"field":"s","type":"nominal"}}},
{"data":{"name":"mk"},"transform":[{"filter":"datum.p==='F'"}],"mark":{"type":"point","shape":"M-1,-0.7L1,-0.7L1,0.7L-1,0.7Z","filled":true,"color":"#e0262b","size":36,"opacity":1},"encoding":{"x":{"field":"t","type":"quantitative","axis":null},"y":{"field":"v","type":"quantitative","axis":null}}}
],
"resolve":{"axis":{"x":"independent","y":"independent"}}
},
{
"title":{"text":"G","anchor":"start","frame":"bounds","font":"Liberation Sans","fontSize":16,"fontWeight":"normal","color":"#000","offset":-2,"dx":-6},
"width":123,"height":100,
"data":{"name":"G"},"transform":[{"fold":["k","r","b","g","o","u"],"as":["s","v"]},{"filter":"isValid(datum.v)"}],"mark":{"type":"line","strokeWidth":1},
"encoding":{"x":{"field":"t","type":"quantitative","scale":{"domain":[-5,40],"nice":false,"zero":false},"axis":{"values":[0,10,20,30,40],"labelExpr":"datum.value % 20 === 0 ? format(datum.value,'d') : ''","tickSize":{"condition":{"test":"datum.value % 20 === 0","value":3},"value":1.5},"title":"Time (ms)","titlePadding":1,"labelFlush":false,"labelOverlap":false}},
"y":{"field":"v","type":"quantitative","scale":{"domain":[-643,220],"nice":false,"zero":false},"axis":{"values":[-600,-500,-400,-300,-200,-100,0,100,200],"labelExpr":"datum.value % 200 === 0 ? replace(format(datum.value,'d'),'−','-') : ''","tickSize":{"condition":{"test":"datum.value % 200 === 0","value":3},"value":1.5},"labelOverlap":false,"title":"Iₙₐ (µA/cm²)","titlePadding":1}},
"color":{"field":"s","type":"nominal","scale":{"domain":["k","r","b","g","o","u"],"range":["#111111","#e41e26","#2b3fd9","#1e9640","#f5931f","#6f58c9"]},"legend":null}}
},
{
"title":{"text":"H","anchor":"start","frame":"bounds","font":"Liberation Sans","fontSize":16,"fontWeight":"normal","color":"#000","offset":-2,"dx":-5},
"width":123,"height":100,
"data":{"name":"H"},"transform":[{"fold":["k","r","b","g","o","u"],"as":["s","v"]},{"filter":"isValid(datum.v)"}],"mark":{"type":"line","strokeWidth":1},
"encoding":{"x":{"field":"t","type":"quantitative","scale":{"domain":[-5,40],"nice":false,"zero":false},"axis":{"values":[0,10,20,30,40],"labelExpr":"datum.value % 20 === 0 ? format(datum.value,'d') : ''","tickSize":{"condition":{"test":"datum.value % 20 === 0","value":3},"value":1.5},"title":"Time (ms)","titlePadding":1,"labelFlush":false,"labelOverlap":false}},
"y":{"field":"v","type":"quantitative","scale":{"domain":[-643,220],"nice":false,"zero":false},"axis":{"values":[-600,-500,-400,-300,-200,-100,0,100,200],"labelExpr":"datum.value % 200 === 0 ? replace(format(datum.value,'d'),'−','-') : ''","tickSize":{"condition":{"test":"datum.value % 200 === 0","value":3},"value":1.5},"labelOverlap":false,"title":null}},
"color":{"field":"s","type":"nominal","scale":{"domain":["k","r","b","g","o","u"],"range":["#111111","#e41e26","#2b3fd9","#1e9640","#f5931f","#6f58c9"]},"legend":null}}
},
{
"title":{"text":"I","anchor":"start","frame":"bounds","font":"Liberation Sans","fontSize":16,"fontWeight":"normal","color":"#000","offset":-2,"dx":-5},
"width":123,"height":100,
"data":{"name":"I"},"transform":[{"fold":["k","r","b","g","o","u"],"as":["s","v"]},{"filter":"isValid(datum.v)"}],"mark":{"type":"line","strokeWidth":1},
"encoding":{"x":{"field":"t","type":"quantitative","scale":{"domain":[-5,40],"nice":false,"zero":false},"axis":{"values":[0,10,20,30,40],"labelExpr":"datum.value % 20 === 0 ? format(datum.value,'d') : ''","tickSize":{"condition":{"test":"datum.value % 20 === 0","value":3},"value":1.5},"title":"Time (ms)","titlePadding":1,"labelFlush":false,"labelOverlap":false}},
"y":{"field":"v","type":"quantitative","scale":{"domain":[-643,220],"nice":false,"zero":false},"axis":{"values":[-600,-500,-400,-300,-200,-100,0,100,200],"labelExpr":"datum.value % 200 === 0 ? replace(format(datum.value,'d'),'−','-') : ''","tickSize":{"condition":{"test":"datum.value % 200 === 0","value":3},"value":1.5},"labelOverlap":false,"title":null}},
"color":{"field":"s","type":"nominal","scale":{"domain":["k","r","b","g","o","u"],"range":["#111111","#e41e26","#2b3fd9","#1e9640","#f5931f","#6f58c9"]},"legend":null}}
}
]
}
